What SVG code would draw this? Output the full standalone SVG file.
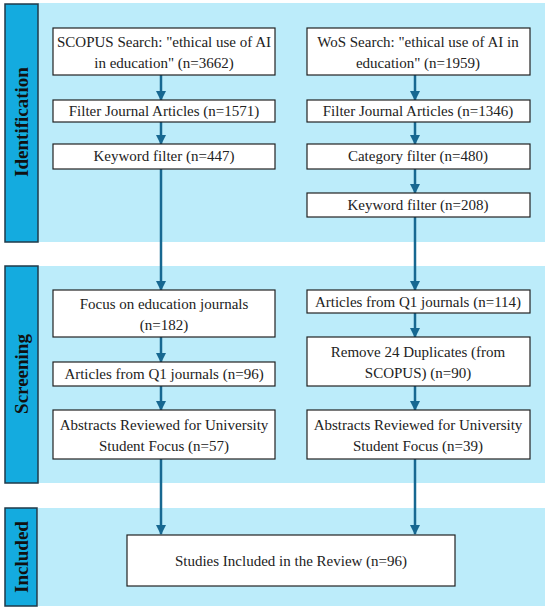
<svg xmlns="http://www.w3.org/2000/svg" width="550" height="612" viewBox="0 0 550 612">
<style>
.panel{fill:#bcecfa;}
.lab{fill:#14abdf;stroke:#1f3a4a;stroke-width:1.5;}
.labt{font-family:"Liberation Serif","DejaVu Serif",serif;font-weight:bold;font-size:19px;fill:#111;text-anchor:middle;}
.box{fill:#fff;stroke:#222;stroke-width:1.2;}
.t{font-family:"Liberation Serif","DejaVu Serif",serif;font-size:15px;fill:#222;text-anchor:middle;}
.c{stroke:#176891;stroke-width:2.5;fill:none;}
</style>
<defs>
<marker id="ah" viewBox="0 0 10 10" refX="9" refY="5" markerWidth="4" markerHeight="4" orient="auto" markerUnits="strokeWidth">
<path d="M0,0 L10,5 L0,10 Z" fill="#176891"/>
</marker>
</defs>
<rect width="550" height="612" fill="#fff"/>
<g id="phase-identification">
<rect class="panel" x="38" y="3" width="507" height="239"/>
<rect class="lab" x="5" y="4" width="33" height="238"/>
<text class="labt" transform="translate(28,122) rotate(-90)">Identification</text>
</g>
<g id="phase-screening">
<rect class="panel" x="38" y="266" width="507" height="217"/>
<rect class="lab" x="5" y="266" width="33" height="217"/>
<text class="labt" transform="translate(28,374) rotate(-90)">Screening</text>
</g>
<g id="phase-included">
<rect class="panel" x="38" y="508" width="507" height="98"/>
<rect class="lab" x="5" y="508" width="32" height="98"/>
<text class="labt" transform="translate(28,557) rotate(-90)">Included</text>
</g>
<g id="connectors">
<path class="c" marker-end="url(#ah)" d="M161,75 V100"/>
<path class="c" marker-end="url(#ah)" d="M161,122 V144"/>
<path class="c" marker-end="url(#ah)" d="M161,169 V290"/>
<path class="c" marker-end="url(#ah)" d="M161,337 V362"/>
<path class="c" marker-end="url(#ah)" d="M161,386 V410"/>
<path class="c" marker-end="url(#ah)" d="M161,459 V534"/>
<path class="c" marker-end="url(#ah)" d="M415,75 V100"/>
<path class="c" marker-end="url(#ah)" d="M415,122 V144"/>
<path class="c" marker-end="url(#ah)" d="M415,169 V193"/>
<path class="c" marker-end="url(#ah)" d="M415,217 V290"/>
<path class="c" marker-end="url(#ah)" d="M415,313 V337"/>
<path class="c" marker-end="url(#ah)" d="M415,386 V410"/>
<path class="c" marker-end="url(#ah)" d="M415,459 V534"/>
</g>
<g id="scopus-search">
<rect class="box" x="53" y="28" width="222" height="47"/>
<text class="t" x="164" y="47">SCOPUS Search: "ethical use of AI</text>
<text class="t" x="164" y="68">in education" (n=3662)</text>
</g>
<g id="scopus-journal">
<rect class="box" x="53" y="100" width="222" height="22"/>
<text class="t" x="164" y="116">Filter Journal Articles (n=1571)</text>
</g>
<g id="scopus-keyword">
<rect class="box" x="53" y="144" width="222" height="25"/>
<text class="t" x="164" y="161">Keyword filter (n=447)</text>
</g>
<g id="wos-search">
<rect class="box" x="307" y="28" width="223" height="47"/>
<text class="t" x="418" y="47">WoS Search: "ethical use of AI in</text>
<text class="t" x="418" y="68">education" (n=1959)</text>
</g>
<g id="wos-journal">
<rect class="box" x="307" y="100" width="223" height="22"/>
<text class="t" x="418" y="116">Filter Journal Articles (n=1346)</text>
</g>
<g id="wos-category">
<rect class="box" x="307" y="144" width="223" height="25"/>
<text class="t" x="418" y="161">Category filter (n=480)</text>
</g>
<g id="wos-keyword">
<rect class="box" x="307" y="193" width="223" height="24"/>
<text class="t" x="418" y="210">Keyword filter (n=208)</text>
</g>
<g id="scopus-education">
<rect class="box" x="53" y="290" width="222" height="47"/>
<text class="t" x="164" y="309">Focus on education journals</text>
<text class="t" x="164" y="330">(n=182)</text>
</g>
<g id="scopus-q1">
<rect class="box" x="53" y="362" width="222" height="24"/>
<text class="t" x="164" y="379">Articles from Q1 journals (n=96)</text>
</g>
<g id="scopus-abstracts">
<rect class="box" x="53" y="410" width="222" height="49"/>
<text class="t" x="164" y="430">Abstracts Reviewed for University</text>
<text class="t" x="164" y="451">Student Focus (n=57)</text>
</g>
<g id="wos-q1">
<rect class="box" x="307" y="290" width="223" height="23"/>
<text class="t" x="418" y="307">Articles from Q1 journals (n=114)</text>
</g>
<g id="wos-duplicates">
<rect class="box" x="307" y="337" width="223" height="49"/>
<text class="t" x="418" y="357">Remove 24 Duplicates (from</text>
<text class="t" x="418" y="378">SCOPUS) (n=90)</text>
</g>
<g id="wos-abstracts">
<rect class="box" x="307" y="410" width="223" height="49"/>
<text class="t" x="418" y="430">Abstracts Reviewed for University</text>
<text class="t" x="418" y="451">Student Focus (n=39)</text>
</g>
<g id="included">
<rect class="box" x="127" y="535" width="328" height="51"/>
<text class="t" x="291" y="566">Studies Included in the Review (n=96)</text>
</g>
</svg>
